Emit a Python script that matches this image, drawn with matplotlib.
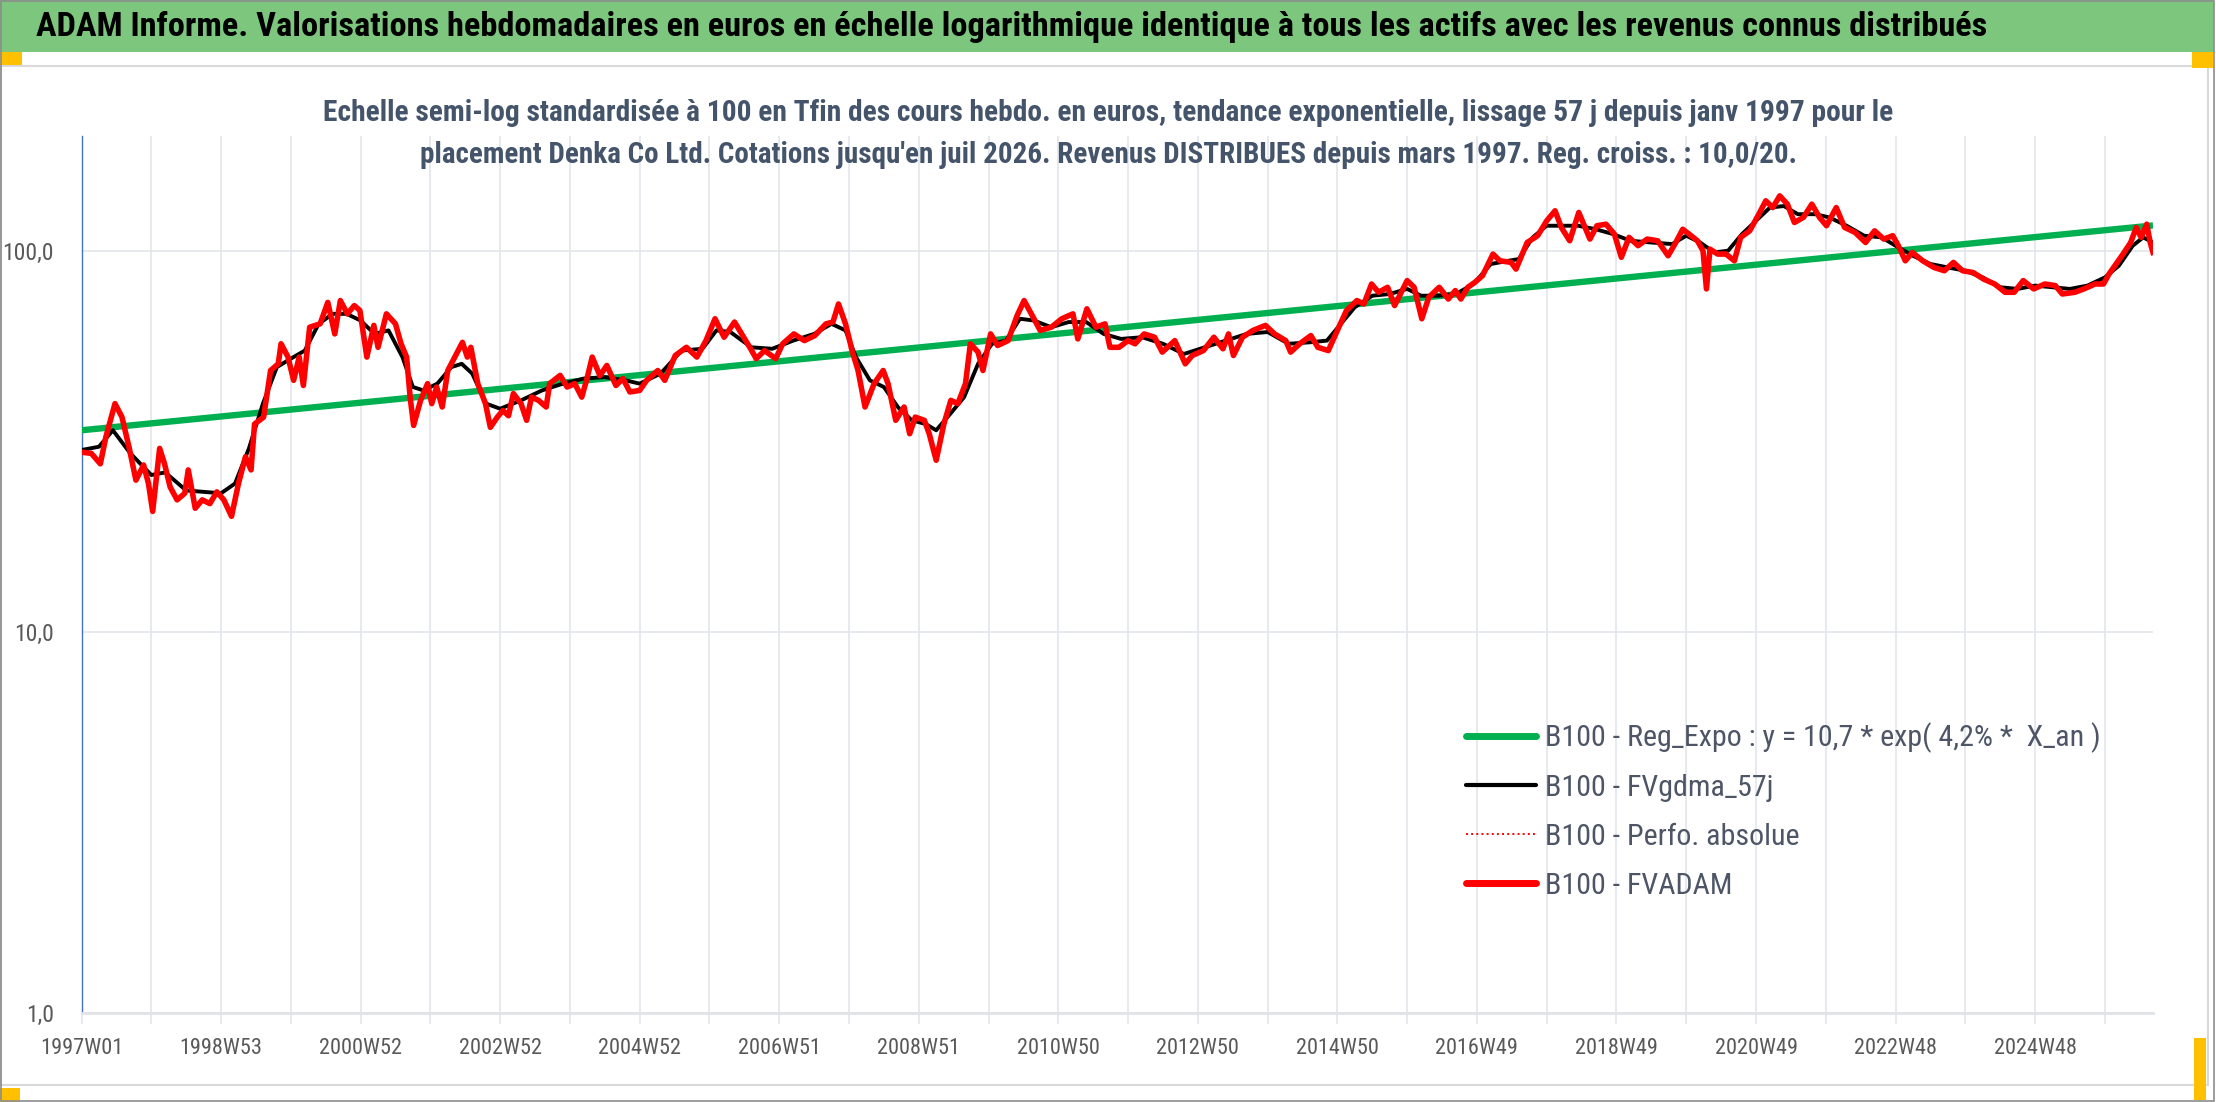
import matplotlib
matplotlib.use("Agg")
import matplotlib.pyplot as plt
from matplotlib.patches import Rectangle
from matplotlib.lines import Line2D
from matplotlib import font_manager
from matplotlib.ticker import FixedLocator, NullFormatter

# ---- data (x = decimal year on the weekly axis) ----
fvadam_x = [
    1997.00, 1997.14, 1997.27, 1997.35, 1997.48, 1997.58, 1997.68, 1997.78, 1997.89, 1997.96,
    1998.02, 1998.12, 1998.19, 1998.27, 1998.37, 1998.48, 1998.53, 1998.63, 1998.73, 1998.84,
    1998.94, 1999.04, 1999.15, 1999.25, 1999.35, 1999.43, 1999.48, 1999.61, 1999.71, 1999.82,
    1999.86, 1999.96, 2000.04, 2000.12, 2000.18, 2000.27, 2000.42, 2000.53, 2000.63, 2000.71,
    2000.81, 2000.91, 2000.99, 2001.09, 2001.19, 2001.25, 2001.37, 2001.50, 2001.58, 2001.66,
    2001.71, 2001.76, 2001.86, 2001.96, 2002.02, 2002.09, 2002.17, 2002.25, 2002.35, 2002.46,
    2002.53, 2002.58, 2002.68, 2002.79, 2002.86, 2002.96, 2003.04, 2003.12, 2003.19, 2003.30,
    2003.38, 2003.45, 2003.55, 2003.66, 2003.71, 2003.86, 2003.96, 2004.07, 2004.17, 2004.25,
    2004.32, 2004.43, 2004.53, 2004.66, 2004.76, 2004.86, 2005.00, 2005.10, 2005.26, 2005.36,
    2005.51, 2005.67, 2005.82, 2005.95, 2006.08, 2006.21, 2006.36, 2006.49, 2006.59, 2006.67,
    2006.79, 2006.95, 2007.05, 2007.21, 2007.36, 2007.51, 2007.67, 2007.77, 2007.85, 2007.95,
    2008.05, 2008.13, 2008.23, 2008.36, 2008.49, 2008.56, 2008.67, 2008.79, 2008.87, 2008.95,
    2009.08, 2009.15, 2009.25, 2009.36, 2009.46, 2009.56, 2009.67, 2009.74, 2009.85, 2009.92,
    2010.03, 2010.13, 2010.28, 2010.41, 2010.51, 2010.64, 2010.74, 2010.90, 2011.05, 2011.21,
    2011.28, 2011.41, 2011.54, 2011.67, 2011.74, 2011.87, 2012.00, 2012.10, 2012.23, 2012.38,
    2012.49, 2012.67, 2012.82, 2012.92, 2013.08, 2013.23, 2013.36, 2013.44, 2013.51, 2013.64,
    2013.79, 2013.97, 2014.10, 2014.26, 2014.33, 2014.46, 2014.62, 2014.72, 2014.87, 2015.00,
    2015.13, 2015.28, 2015.38, 2015.49, 2015.59, 2015.72, 2015.82, 2016.00, 2016.10, 2016.21,
    2016.31, 2016.46, 2016.59, 2016.69, 2016.77, 2016.87, 2016.97, 2017.08, 2017.23, 2017.33,
    2017.49, 2017.56, 2017.72, 2017.87, 2018.00, 2018.12, 2018.21, 2018.33, 2018.46, 2018.56,
    2018.62, 2018.72, 2018.85, 2018.97, 2019.07, 2019.18, 2019.31, 2019.44, 2019.59, 2019.74,
    2019.85, 2019.95, 2020.04, 2020.16, 2020.24, 2020.29, 2020.34, 2020.45, 2020.57, 2020.69,
    2020.78, 2020.91, 2021.04, 2021.14, 2021.24, 2021.34, 2021.45, 2021.55, 2021.68, 2021.80,
    2021.91, 2022.01, 2022.15, 2022.27, 2022.42, 2022.57, 2022.70, 2022.83, 2022.96, 2023.04,
    2023.14, 2023.24, 2023.39, 2023.55, 2023.70, 2023.83, 2023.96, 2024.11, 2024.26, 2024.42,
    2024.57, 2024.70, 2024.83, 2024.98, 2025.14, 2025.29, 2025.39, 2025.57, 2025.70, 2025.86,
    2025.98, 2026.06, 2026.16, 2026.26, 2026.37, 2026.45, 2026.52, 2026.60, 2026.65, 2026.69,
]
fvadam_y = [
    29.6, 29.4, 27.6, 32.5, 39.7, 36.6, 30.6, 25.0, 27.4, 24.5,
    20.7, 30.3, 27.6, 24.0, 22.2, 23.1, 26.6, 21.1, 22.2, 21.7,
    23.3, 22.2, 20.1, 24.5, 28.8, 26.6, 35.1, 36.6, 48.5, 50.5,
    57.0, 52.6, 45.7, 52.6, 44.3, 63.0, 64.3, 73.2, 60.5, 74.0,
    68.3, 71.8, 69.7, 52.6, 63.7, 55.8, 68.3, 64.3, 57.0, 52.6,
    41.3, 34.8, 40.5, 44.8, 39.7, 43.9, 38.9, 48.5, 52.6, 57.5,
    52.6, 55.8, 44.8, 39.7, 34.4, 36.6, 38.1, 36.9, 42.2, 39.7,
    35.9, 41.3, 40.5, 38.9, 44.8, 47.1, 43.9, 44.8, 41.3, 46.6,
    52.6, 47.0, 50.0, 44.3, 46.2, 42.6, 43.0, 45.7, 48.5, 45.7,
    53.1, 55.8, 52.6, 58.1, 66.3, 59.3, 65.0, 59.3, 55.3, 52.1,
    54.7, 52.1, 57.0, 60.5, 58.1, 59.9, 64.3, 65.0, 72.5, 64.3,
    54.2, 48.5, 38.9, 44.8, 48.5, 44.8, 35.9, 38.9, 33.1, 36.6,
    35.9, 33.1, 28.2, 35.1, 40.5, 39.7, 44.8, 57.0, 54.2, 48.5,
    60.5, 56.4, 58.1, 67.6, 74.0, 66.9, 61.8, 63.0, 66.3, 68.3,
    58.7, 70.4, 63.0, 64.3, 55.8, 55.8, 58.1, 57.0, 60.5, 59.3,
    54.2, 58.1, 50.5, 53.1, 54.7, 59.3, 55.3, 60.5, 53.1, 59.3,
    61.8, 63.7, 60.5, 58.1, 54.2, 57.0, 59.9, 55.8, 54.7, 61.8,
    69.7, 74.0, 72.5, 81.8, 77.8, 80.2, 71.8, 83.5, 80.2, 66.3,
    75.5, 80.2, 74.7, 78.6, 74.7, 80.2, 82.6, 86.0, 98.0, 94.1,
    93.2, 89.5, 105.1, 109.5, 119.8, 127.3, 115.1, 106.2, 126.0, 113.9,
    107.3, 116.3, 117.4, 110.6, 96.1, 108.4, 103.1, 107.3, 106.2, 97.0,
    105.1, 113.9, 110.6, 106.2, 100.0, 79.4, 101.0, 98.0, 98.0, 94.1,
    108.4, 112.8, 124.7, 135.2, 129.8, 139.3, 132.5, 118.6, 122.3, 132.5,
    122.3, 116.3, 129.8, 115.1, 111.7, 105.1, 112.8, 107.3, 109.5, 103.1,
    94.1, 99.0, 94.1, 90.4, 88.6, 93.2, 88.6, 87.7, 84.3, 81.8,
    77.8, 77.8, 83.5, 79.4, 81.8, 81.0, 77.0, 77.8, 79.4, 81.8,
    81.8, 86.9, 92.3, 98.0, 105.1, 115.1, 108.4, 117.4, 105.1, 99.0,
]

gdma_x = [
    1997.00, 1997.25, 1997.45, 1997.70, 1998.00, 1998.20, 1998.50, 1999.00, 1999.20, 1999.40,
    1999.60, 1999.80, 2000.00, 2000.20, 2000.40, 2000.60, 2000.80, 2001.00, 2001.20, 2001.40,
    2001.60, 2001.75, 2001.90, 2002.10, 2002.30, 2002.45, 2002.60, 2002.80, 2003.00, 2003.30,
    2003.60, 2003.90, 2004.20, 2004.50, 2004.80, 2005.00, 2005.30, 2005.60, 2005.90, 2006.10,
    2006.30, 2006.60, 2006.90, 2007.20, 2007.50, 2007.75, 2007.95, 2008.10, 2008.30, 2008.50,
    2008.70, 2008.90, 2009.10, 2009.25, 2009.45, 2009.65, 2009.85, 2010.05, 2010.25, 2010.45,
    2010.65, 2010.90, 2011.15, 2011.40, 2011.65, 2011.90, 2012.20, 2012.50, 2012.80, 2013.10,
    2013.40, 2013.70, 2014.00, 2014.30, 2014.60, 2014.85, 2015.05, 2015.25, 2015.50, 2015.75,
    2016.00, 2016.20, 2016.45, 2016.70, 2016.95, 2017.20, 2017.45, 2017.60, 2017.80, 2018.00,
    2018.20, 2018.45, 2018.70, 2018.95, 2019.20, 2019.50, 2019.80, 2020.00, 2020.20, 2020.40,
    2020.60, 2020.80, 2021.00, 2021.20, 2021.40, 2021.60, 2021.85, 2022.05, 2022.30, 2022.55,
    2022.80, 2023.00, 2023.25, 2023.50, 2023.75, 2024.00, 2024.25, 2024.50, 2024.75, 2025.00,
    2025.25, 2025.50, 2025.75, 2026.00, 2026.20, 2026.40, 2026.55, 2026.69,
]
gdma_y = [
    30.0, 30.6, 33.8, 29.4, 25.8, 26.2, 23.5, 23.1, 24.5, 30.3,
    39.7, 49.5, 52.1, 54.7, 64.3, 68.3, 68.3, 65.6, 60.5, 61.8,
    52.6, 43.9, 43.0, 44.8, 49.5, 50.5, 47.6, 39.7, 38.5, 40.5,
    43.0, 44.8, 46.2, 46.6, 45.7, 44.8, 47.6, 54.7, 55.3, 61.8,
    61.2, 55.8, 55.3, 58.1, 60.5, 64.3, 61.8, 52.6, 45.7, 43.9,
    38.9, 35.9, 35.1, 33.8, 37.3, 41.3, 50.5, 57.0, 58.1, 66.3,
    65.6, 63.0, 65.0, 65.0, 60.5, 58.7, 59.3, 57.0, 53.6, 55.8,
    58.1, 60.5, 61.2, 57.0, 57.5, 58.1, 64.3, 71.1, 76.2, 77.0,
    79.4, 76.2, 76.2, 77.0, 81.8, 92.3, 94.1, 95.1, 108.4, 116.3,
    116.3, 116.3, 113.9, 110.6, 106.2, 105.1, 104.1, 109.5, 105.1, 99.0,
    100.0, 110.6, 119.8, 129.8, 131.0, 124.7, 124.7, 122.3, 116.3, 109.5,
    108.4, 103.1, 97.0, 92.3, 90.4, 88.6, 85.1, 80.2, 79.4, 81.0,
    80.2, 79.4, 81.0, 85.1, 91.3, 103.1, 108.4, 105.1,
]

# regression line endpoints (straight line on the log scale)
reg_x = [1997.00, 2026.69]
reg_y = [33.8, 116.5]

tick_pos = [1997, 1999, 2001, 2003, 2005, 2007, 2009, 2011, 2013, 2015, 2017, 2019, 2021, 2023, 2025]
tick_lab = ['1997W01', '1998W53', '2000W52', '2002W52', '2004W52', '2006W51', '2008W51', '2010W50',
            '2012W50', '2014W50', '2016W49', '2018W49', '2020W49', '2022W48', '2024W48']
grid_pos = list(range(1997, 2027))

title = ("ADAM Informe. Valorisations hebdomadaires en euros en échelle logarithmique "
         "identique à tous les actifs avec les revenus connus distribués")
sub1 = ("Echelle semi-log standardisée à 100 en Tfin des cours hebdo. en euros, tendance exponentielle, "
        "lissage 57 j depuis janv 1997 pour le")
sub2 = ("placement Denka Co Ltd. Cotations jusqu'en juil 2026. Revenus DISTRIBUES depuis mars 1997. "
        "Reg. croiss. : 10,0/20.")
leg_labels = ['B100 - Reg_Expo : y = 10,7 * exp( 4,2% *  X_an )', 'B100 - FVgdma_57j',
              'B100 - Perfo. absolue', 'B100 - FVADAM']

# ---- fonts: a condensed family is closest to the squeezed Calibri of the original ----
names = {f.name for f in font_manager.fontManager.ttflist}
narrow = 'DejaVu Sans'
for cand in ['Roboto Condensed', 'Liberation Sans Narrow', 'Liberation Sans']:
    if cand in names:
        narrow = cand
        break
plt.rcParams['font.family'] = [narrow, 'DejaVu Sans']

W, H = 2216, 1102
fig = plt.figure(figsize=(W / 100, H / 100), dpi=100)


def fx(px):
    return px / W


def fy(py):
    return 1 - py / H


def rect(x0, y0, x1, y1, **kw):
    fig.patches.append(Rectangle((fx(x0), fy(y1)), fx(x1) - fx(x0), fy(y0) - fy(y1),
                                 transform=fig.transFigure, figure=fig, **kw))


# frame decorations
rect(1, 66, 2208, 1085, facecolor='white', edgecolor='#D9D9D9', lw=1.5, zorder=-5)
rect(0, 0, 2214, 52, facecolor='#7DC67D', edgecolor='none', zorder=-4)
rect(0, 52, 22, 65, facecolor='#FFC000', edgecolor='none', zorder=-3)
rect(2192, 52, 2213, 68, facecolor='#FFC000', edgecolor='none', zorder=-3)
rect(0, 1088, 20, 1102, facecolor='#FFC000', edgecolor='none', zorder=-3)
rect(2194, 1038, 2206, 1100, facecolor='#FFC000', edgecolor='none', zorder=-3)
rect(0.5, 0.5, 2214, 1101, facecolor='none', edgecolor='#8C8C8C', lw=1.2, zorder=-2)

ax = fig.add_axes([fx(81.5), fy(1013), fx(2153) - fx(81.5), fy(136) - fy(1013)])
ax.set_zorder(2)
ax.set_facecolor('none')
ax.set_yscale('log')
ax.set_xlim(1997.0, 2026.69)
ax.set_ylim(1, 200)

ax.xaxis.set_major_locator(FixedLocator(grid_pos))
ax.xaxis.set_major_formatter(NullFormatter())
ax.xaxis.set_minor_locator(FixedLocator([]))
ax.yaxis.set_major_locator(FixedLocator([1, 10, 100]))
ax.yaxis.set_minor_locator(FixedLocator([]))
ax.set_yticklabels(['1,0', '10,0', '100,0'])
ax.grid(True, axis='both', color='#E4E8EE', lw=1.3)
ax.set_axisbelow(True)
ax.tick_params(axis='x', length=8, width=1.3, color='#E4E8EE', direction='out')
ax.tick_params(axis='y', length=0, pad=20, labelsize=17, labelcolor='#595959')
for s in ['top', 'right']:
    ax.spines[s].set_visible(False)
ax.spines['bottom'].set_color('#E0E3E8')
ax.spines['bottom'].set_linewidth(2)
ax.spines['left'].set_color('#4472C4')
ax.spines['left'].set_linewidth(1)

tick_texts = [ax.text(p, -0.04, lab, transform=ax.get_xaxis_transform(), ha='center', va='center',
                      fontsize=15, color='#595959') for p, lab in zip(tick_pos, tick_lab)]

ax.plot(reg_x, reg_y, color='#00B050', lw=4.6, solid_capstyle='butt', zorder=3)
ax.plot(gdma_x, gdma_y, color='black', lw=2.8, zorder=4)
ax.plot(fvadam_x, fvadam_y, color='#FF0000', lw=1, ls=':', zorder=4)
ax.plot(fvadam_x, fvadam_y, color='#FF0000', lw=4.0, zorder=5)

handles = [Line2D([], [], color='#00B050', lw=5, solid_capstyle='round'),
           Line2D([], [], color='black', lw=3, solid_capstyle='round'),
           Line2D([], [], color='#FF0000', lw=1.4, ls=':'),
           Line2D([], [], color='#FF0000', lw=5, solid_capstyle='round')]
leg = ax.legend(handles, leg_labels, loc='upper left', bbox_to_anchor=(fx(1466), fy(722)),
                bbox_transform=fig.transFigure, frameon=False, fontsize=21, labelcolor='#4D5566',
                handlelength=2.4, handletextpad=0.3, labelspacing=0.72, borderaxespad=0, borderpad=0)

t_title = fig.text(fx(36), fy(27), title, ha='left', va='center', fontsize=26, color='black',
                   fontweight='bold')
t_s1 = fig.text(0.5, fy(113), sub1, ha='center', va='center', fontsize=20, color='#44546A',
                fontweight='bold', zorder=6)
t_s2 = fig.text(0.5, fy(155), sub2, ha='center', va='center', fontsize=20, color='#44546A',
                fontweight='bold', zorder=6)

# fit text widths to the reference layout
fig.canvas.draw()
r = fig.canvas.get_renderer()


def fit(t, target):
    w = t.get_window_extent(r).width
    t.set_fontsize(t.get_fontsize() * target / w)


fit(t_title, 1952)
fit(t_s1, 1567)
fit(t_s2, 1377)
for t in tick_texts:
    fit(t, 83)
fit(leg.get_texts()[0], 555)
fs = leg.get_texts()[0].get_fontsize()
for t in leg.get_texts():
    t.set_fontsize(fs)

fig.savefig('out.png', dpi=100)
